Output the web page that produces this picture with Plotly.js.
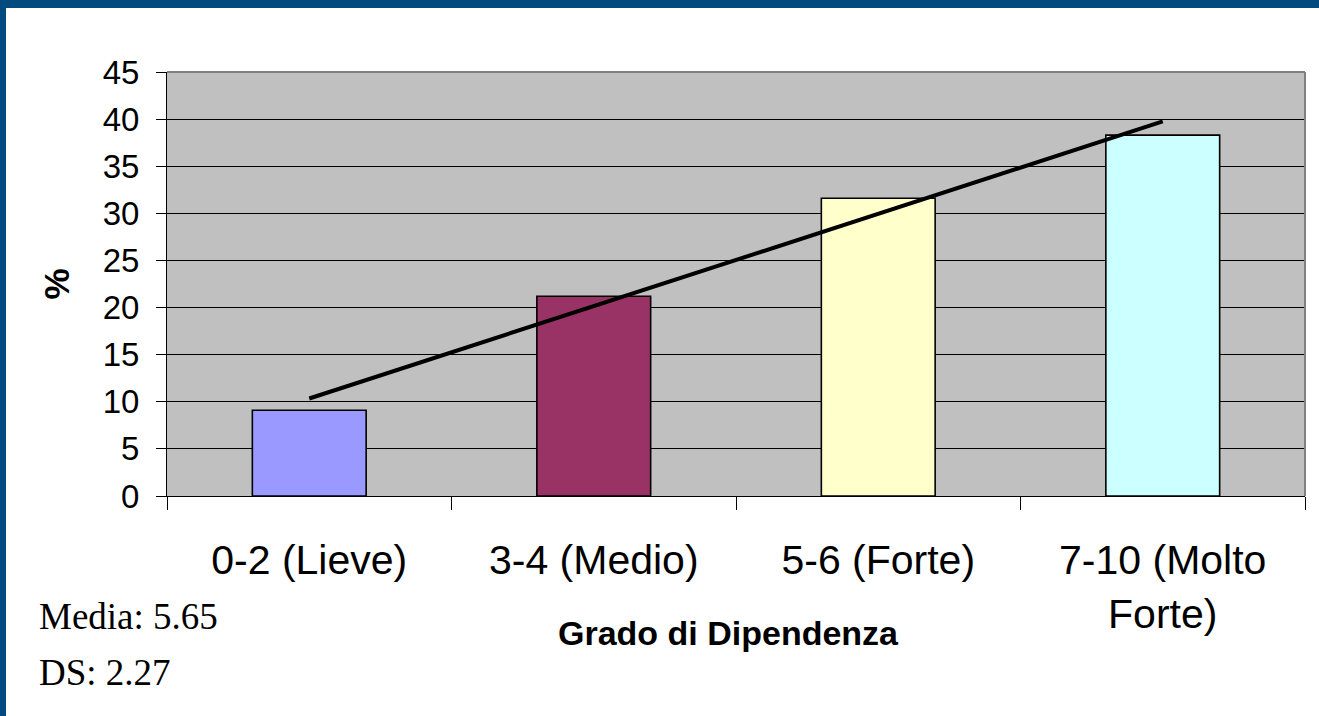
<!DOCTYPE html>
<html>
<head>
<meta charset="utf-8">
<script src="https://cdn.plot.ly/plotly-3.0.1.min.js"></script>
<style>
  html, body { margin: 0; padding: 0; background: #ffffff; }
  #chart { width: 1319px; height: 716px; }
</style>
</head>
<body>
<div id="chart"></div>
<script>
// ---- Data ----
const categories = ["0-2 (Lieve)", "3-4 (Medio)", "5-6 (Forte)", "7-10 (Molto<br>Forte)"];
const percentValues = [9.1, 21.2, 31.6, 38.3];
const barColors = ["#9999FF", "#993366", "#FFFFCC", "#CCFFFF"];
const trendCategories = [categories[0], categories[3]];
const trendValues = [10.35, 39.75];
const yTickValues = [0, 5, 10, 15, 20, 25, 30, 35, 40, 45];
const statsLines = ["Media: 5.65", "DS: 2.27"];
const xTitle = "Grado di Dipendenza";
const yTitle = "%";

// ---- Layout geometry ----
const W = 1319, H = 716;
const M = { l: 167, r: 14, t: 72, b: 220 };
const plotW = W - M.l - M.r, plotH = H - M.t - M.b;
const px = x => (x - M.l) / plotW;          // pixel x -> paper x
const py = y => (H - M.b - y) / plotH;      // pixel y -> paper y

const frameBlue = "#034A7E";

const traces = [
  {
    type: "bar",
    x: categories,
    y: percentValues,
    marker: { color: barColors, line: { color: "#000000", width: 1.6 } },
    hoverinfo: "x+y",
    showlegend: false
  },
  {
    type: "scatter",
    mode: "lines",
    x: trendCategories,
    y: trendValues,
    line: { color: "#000000", width: 4 },
    hoverinfo: "skip",
    showlegend: false
  }
];

const layout = {
  width: W,
  height: H,
  margin: M,
  paper_bgcolor: "#FFFFFF",
  plot_bgcolor: "#C0C0C0",
  bargap: 0.6,
  font: { family: "Liberation Sans, Arial, sans-serif", color: "#000000" },
  xaxis: {
    type: "category",
    showline: true,
    linecolor: "#000000",
    linewidth: 1,
    ticks: "outside",
    tickson: "boundaries",
    ticklen: 13,
    tickcolor: "#000000",
    tickwidth: 1,
    showgrid: false,
    tickfont: { family: "Liberation Sans, Arial, sans-serif", size: 41, color: "#000000" },
    ticklabelstandoff: 28,
    fixedrange: true
  },
  yaxis: {
    range: [0, 45],
    tickvals: yTickValues,
    ticktext: yTickValues.map(String),
    showline: true,
    linecolor: "#000000",
    linewidth: 1,
    ticks: "outside",
    ticklen: 10,
    tickcolor: "#000000",
    tickwidth: 1,
    showgrid: true,
    gridcolor: "#000000",
    gridwidth: 1,
    zeroline: false,
    tickfont: { family: "Liberation Sans, Arial, sans-serif", size: 33, color: "#000000" },
    ticklabelstandoff: 10,
    title: {
      text: "<b>" + yTitle + "</b>",
      font: { family: "Liberation Sans, Arial, sans-serif", size: 35, color: "#000000" },
      standoff: 22
    },
    fixedrange: true
  },
  shapes: [
    // plot-area frame top & right (grey)
    { type: "line", xref: "paper", yref: "paper", x0: 0, x1: 1, y0: 1, y1: 1,
      line: { color: "#808080", width: 2 } },
    { type: "line", xref: "paper", yref: "paper", x0: 1, x1: 1, y0: 0, y1: 1,
      line: { color: "#808080", width: 2 } },
    // slide frame (dark blue top and left bars)
    { type: "rect", xref: "paper", yref: "paper", x0: px(0), x1: px(W), y0: py(0), y1: py(8),
      fillcolor: frameBlue, line: { width: 0 }, layer: "above" },
    { type: "rect", xref: "paper", yref: "paper", x0: px(0), x1: px(6), y0: py(0), y1: py(H),
      fillcolor: frameBlue, line: { width: 0 }, layer: "above" }
  ],
  annotations: [
    {
      text: "<b>" + xTitle + "</b>",
      xref: "paper", yref: "paper",
      x: px(728), y: py(633),
      xanchor: "center", yanchor: "middle",
      showarrow: false,
      font: { family: "Liberation Sans, Arial, sans-serif", size: 34, color: "#000000" }
    },
    {
      text: statsLines[0],
      xref: "paper", yref: "paper",
      x: px(37), y: py(616),
      xanchor: "left", yanchor: "middle",
      showarrow: false,
      font: { family: "Liberation Serif, Times New Roman, serif", size: 37, color: "#000000" }
    },
    {
      text: statsLines[1],
      xref: "paper", yref: "paper",
      x: px(37), y: py(672),
      xanchor: "left", yanchor: "middle",
      showarrow: false,
      font: { family: "Liberation Serif, Times New Roman, serif", size: 37, color: "#000000" }
    }
  ]
};

Plotly.newPlot("chart", traces, layout, { displayModeBar: false, staticPlot: true });
</script>
</body>
</html>
